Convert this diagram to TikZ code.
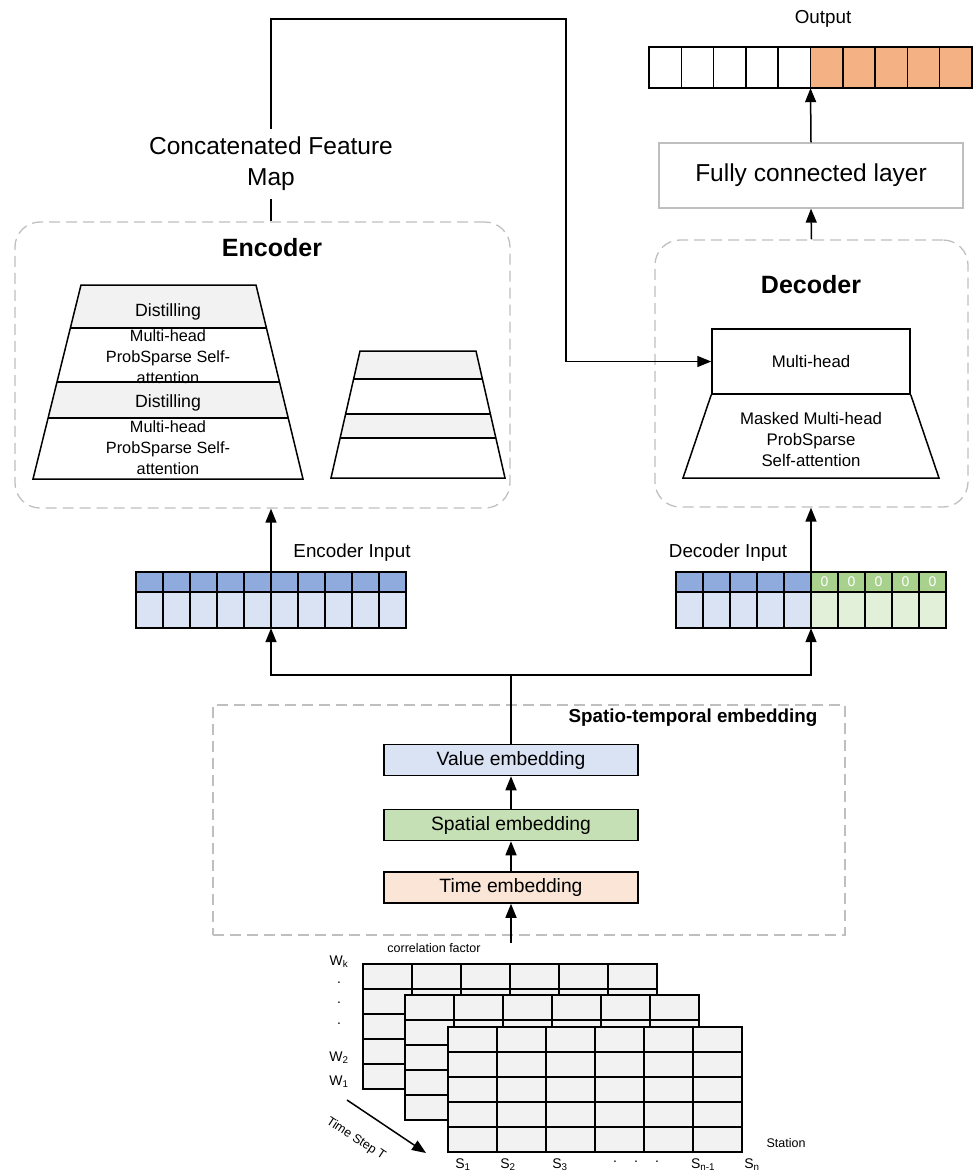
\documentclass[tikz,border=0pt]{standalone}
\usepackage{fontspec}
\setmainfont{Liberation Sans}
\usetikzlibrary{arrows.meta}

\definecolor{bandgray}{HTML}{F2F2F2}
\definecolor{boxgray}{HTML}{BFBFBF}
\definecolor{bluedark}{HTML}{8FAADC}
\definecolor{bluelight}{HTML}{DAE3F3}
\definecolor{greendark}{HTML}{A9D18E}
\definecolor{greenlight}{HTML}{E2F0D9}
\definecolor{greenemb}{HTML}{C5E0B4}
\definecolor{timeemb}{HTML}{FBE5D6}
\definecolor{outorange}{HTML}{F4B183}

\newcommand{\setfs}[2]{\fontsize{#1}{#2}\selectfont}

\tikzset{
  arr/.style={-{Triangle[length=14pt,width=11pt]}, line width=1.5pt},
  dashbox/.style={draw=boxgray, line width=1.3pt, dash pattern=on 11pt off 6pt},
  layer/.style={draw=black, line width=1.5pt},
  cell/.style={draw=black, line width=1.5pt},
  embbox/.style={layer, minimum width=254pt, minimum height=31pt, font=\setfs{19.3}{23}},
}

\begin{document}
\begin{tikzpicture}[x=1pt, y=-1pt, inner sep=0pt]
\useasboundingbox (0,0) rectangle (975,1173);

% dashed frames
\node[dashbox, rounded corners=25pt, minimum width=495pt, minimum height=286pt] (enc) at (262.5,365) {};
\node[dashbox, rounded corners=25pt, minimum width=313pt, minimum height=267pt] (dec) at (811.5,373.5) {};
\node[dashbox, minimum width=632pt, minimum height=230pt] (emb) at (529,820) {};

% titles
\node[font=\setfs{25}{30}\bfseries] (enc-title) at (272,248) {Encoder};
\node[font=\setfs{25}{30}\bfseries] (dec-title) at (811,285) {Decoder};
\node[font=\setfs{18.8}{22}\bfseries] (emb-title) at (693,718) {Spatio-temporal embedding};

% encoder stack (large)
\begin{scope}
  \clip (81,285) -- (256,285) -- (303,479) -- (33,479) -- cycle;
  \fill[bandgray] (30,285) rectangle (310,328) (30,382) rectangle (310,418);
  \draw[layer] (30,328) -- (310,328) (30,382) -- (310,382) (30,418) -- (310,418);
\end{scope}
\draw[layer] (81,285) -- (256,285) -- (303,479) -- (33,479) -- cycle;

\node[font=\setfs{17.7}{21}] (dist1) at (168,312) {Distilling};
\node[align=center, font=\setfs{16.3}{21}] (mhsa1) at (168,357) {Multi-head\\ProbSparse Self-\\attention};
\node[font=\setfs{17.7}{21}] (dist2) at (168,403) {Distilling};
\node[align=center, font=\setfs{16.3}{21}] (mhsa2) at (168,448) {Multi-head\\ProbSparse Self-\\attention};

% encoder stack (small)
\begin{scope}
  \clip (360,351) -- (476,351) -- (505,478) -- (331,478) -- cycle;
  \fill[bandgray] (320,351) rectangle (515,379) (320,414) rectangle (515,438);
  \draw[layer] (320,379) -- (515,379) (320,414) -- (515,414) (320,438) -- (515,438);
\end{scope}
\draw[layer] (360,351) -- (476,351) -- (505,478) -- (331,478) -- cycle;

% decoder blocks
\node[layer, minimum width=198pt, minimum height=65pt, font=\setfs{16.8}{21}] (mh) at (811,361.5) {Multi-head};
\draw[layer] (mh.south west) -- (683,478) -- (939,478) -- (mh.south east);
\node[align=center, font=\setfs{16.8}{21}] (mask) at (811,439) {Masked Multi-head\\ProbSparse\\Self-attention};

% fully connected layer and output
\node[draw=boxgray, line width=1.3pt, minimum width=304pt, minimum height=65pt, font=\setfs{24.5}{29}] (fc) at (811,175.5) {Fully connected layer};
\node[minimum width=323pt, minimum height=41pt] (out) at (810.5,67.5) {};
\foreach \i in {0,...,4}
  \draw[cell, fill=white] ({649+32.3*\i},47) rectangle ++(32.3,41);
\foreach \i in {5,...,9}
  \draw[cell, fill=outorange] ({649+32.3*\i},47) rectangle ++(32.3,41);
\node[font=\setfs{18.8}{22}] (out-label) at (823,19) {Output};

% encoder input
\node[minimum width=270pt, minimum height=56pt] (encin) at (271,600) {};
\foreach \i in {0,...,9} {
  \draw[cell, fill=bluedark] ({136+27*\i},572) rectangle ++(27,20);
  \draw[cell, fill=bluelight] ({136+27*\i},592) rectangle ++(27,36);
}
\node[font=\setfs{18.8}{22}] (encin-label) at (352,553) {Encoder Input};

% decoder input
\node[minimum width=270pt, minimum height=56pt] (decin) at (811,600) {};
\foreach \i in {0,...,4} {
  \draw[cell, fill=bluedark] ({676+27*\i},572) rectangle ++(27,20);
  \draw[cell, fill=bluelight] ({676+27*\i},592) rectangle ++(27,36);
}
\foreach \i in {5,...,9} {
  \draw[cell, fill=greendark] ({676+27*\i},572) rectangle ++(27,20);
  \draw[cell, fill=greenlight] ({676+27*\i},592) rectangle ++(27,36);
  \node[white, font=\setfs{14}{16}] (zero-\i) at ({689.5+27*\i},582) {0};
}
\node[font=\setfs{18.8}{22}] (decin-label) at (728,553) {Decoder Input};

% embeddings
\node[embbox, fill=bluelight] (value) at (511,760) {Value embedding};
\node[embbox, fill=greenemb] (spatial) at (511,825) {Spatial embedding};
\node[embbox, fill=timeemb] (time) at (511,887.5) {Time embedding};

% input tensor
\foreach \mx/\my in {363/964, 405/995, 448/1027} {
  \fill[bandgray] (\mx,\my) rectangle ++(294,125);
  \foreach \c in {0,...,6}
    \draw[layer, line cap=rect] ({\mx+49*\c},\my) -- ++(0,125);
  \foreach \r in {0,...,5}
    \draw[layer, line cap=rect] (\mx,{\my+25*\r}) -- ++(294,0);
}
\node[font=\setfs{12.5}{15}] (corr) at (434,948) {correlation factor};
\node[font=\setfs{14}{16}] (wk) at (339,962) {W\textsubscript{k}};
\foreach \y [count=\k] in {983,1003,1024}
  \node[font=\setfs{14}{16}] (wdot-\k) at (339,\y) {.};
\node[font=\setfs{14}{16}] (w2) at (339,1058) {W\textsubscript{2}};
\node[font=\setfs{14}{16}] (w1) at (339,1082) {W\textsubscript{1}};
\node[font=\setfs{12.5}{15}] (station) at (786,1143) {Station};
\foreach \x/\s [count=\k] in {463/1, 508/2, 560/3, 703/{n-1}, 752/n}
  \node[font=\setfs{14}{16}] (s-\k) at (\x,1165) {S\textsubscript{\s}};
\foreach \x [count=\k] in {615,636,657}
  \node[font=\setfs{14}{16}] (sdot-\k) at (\x,1162) {.};
\coordinate (ts-start) at (347,1100);
\coordinate (ts-end) at (426,1153);
\draw[arr] (ts-start) -- (ts-end);
\node[rotate=-33, font=\setfs{12.5}{15}] (ts-label) at (356,1139) {Time Step T};

% connections
\coordinate (stack-top) at (511,943);
\coordinate (split) at (511,675);
\draw[arr] (stack-top) -- (time.south);
\draw[arr] (time.north) -- (spatial.south);
\draw[arr] (spatial.north) -- (value.south);
\draw[line width=1.5pt] (value.north) -- (split);
\draw[arr] (split) -| (encin.south);
\draw[arr] (split) -| (decin.south);
\draw[arr] (encin.north) -- (encin.north |- enc.south);
\draw[arr] (decin.north) -- (decin.north |- dec.south);
\draw[arr] (dec.north) -- (fc.south);
\draw[arr] (fc.north) -- (out.south);

% concatenated feature map
\node[align=center, inner ysep=8pt, font=\setfs{24.5}{31}] (cfm) at (271,164) {Concatenated Feature\\Map};
\coordinate (cfm-top) at (271,19);
\coordinate (cfm-turn) at (566,19);
\draw[line width=1.5pt] (cfm.south) -- (cfm.south |- enc.north);
\draw[arr] (cfm.north) -- (cfm-top) -- (cfm-turn) |- (mh.west);

\end{tikzpicture}
\end{document}
